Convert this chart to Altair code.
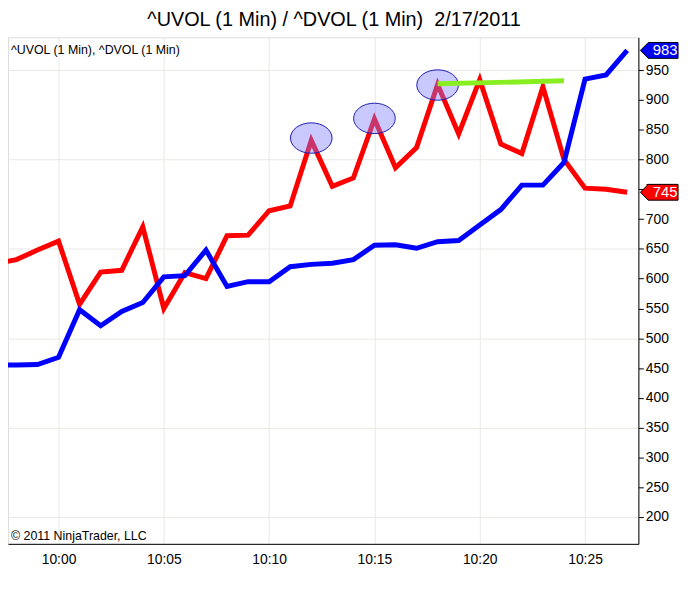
import altair as alt
import pandas as pd

# ---- data ----
minutes = list(range(-3, 28))  # minutes after 10:00, 09:57 .. 10:27
dvol_red = [625, 632, 648, 663, 557, 611, 614, 687, 550, 610, 600, 672, 673, 714, 722,
            832, 755, 769, 868, 786, 820, 926, 843, 934, 826, 810, 922, 800, 752, 750, 745]
uvol_blue = [455, 455, 456, 468, 548, 521, 545, 560, 603, 605, 648, 587, 595, 595, 620,
             624, 626, 632, 656, 657, 651, 662, 664, 690, 716, 757, 757, 795, 935, 942, 983]
green_min = [18, 24]
green_val = [927, 932]
ellipse_min = [12, 15, 18]
ellipse_val = [836, 869, 925]
tick_minutes = [0, 5, 10, 15, 20, 25]
y_ticks = list(range(200, 1000, 50))

TITLE = "^UVOL (1 Min) / ^DVOL (1 Min) \u00a02/17/2011"
LEGEND_TXT = "^UVOL (1 Min), ^DVOL (1 Min)"
COPY_TXT = "\u00a9 2011 NinjaTrader, LLC"

W, H = 636, 511
FONT = "Liberation Sans"


def ts(m):
    base = pd.Timestamp("2011-02-17 10:00:00")
    return (base + pd.Timedelta(minutes=m)).strftime("%Y-%m-%dT%H:%M:%S")


def dt(h, m, s=0):
    return alt.DateTime(year=2011, month=2, date=17, hours=h, minutes=m, seconds=s)


df = pd.DataFrame({"t": [ts(m) for m in minutes], "red": dvol_red, "blue": uvol_blue})
gdf = pd.DataFrame({"t": [ts(m) for m in green_min], "v": green_val})
edf = pd.DataFrame({"t": [ts(m) for m in ellipse_min], "v": ellipse_val})
tags = pd.DataFrame({"v": [uvol_blue[-1], dvol_red[-1]],
                     "label": [str(uvol_blue[-1]), str(dvol_red[-1])],
                     "c": ["#0000ee", "#ff0000"]})

xscale = alt.Scale(domain=[dt(9, 57, 36), dt(10, 27, 32)])
yscale = alt.Scale(domain=[155, 1005], nice=False, zero=False)

x_axis = alt.Axis(values=[dt(10, m) for m in tick_minutes], format="%H:%M",
                  ticks=False, labelPadding=9, labelFontSize=14, labelFont=FONT,
                  labelColor="black", domainColor="black", grid=True,
                  gridColor="#e8e8e4", labelFlush=False, labelOverlap=False)

y_axis = alt.Axis(orient="right", values=y_ticks, labelFontSize=14, labelFont=FONT,
                  labelColor="black", tickColor="black", tickSize=5, labelPadding=2,
                  labelOverlap=False, labelFlush=False,
                  domainColor="black", grid=True, gridColor="#e8e8e4",
                  gridOpacity={"condition": {"test": "datum.value % 150 == 50", "value": 1},
                               "value": 0})


def X(field):
    return alt.X(field, type="temporal", scale=xscale, title=None, axis=x_axis)


def Y(field):
    return alt.Y(field, type="quantitative", scale=yscale, title=None, axis=y_axis)


base = alt.Chart(df)
red_line = base.mark_line(color="#ff0000", strokeWidth=5, strokeJoin="miter", clip=True).encode(
    x=X("t"), y=Y("red"))
blue_line = base.mark_line(color="#0000ff", strokeWidth=5, strokeJoin="miter", clip=True).encode(
    x=X("t"), y=Y("blue"))

k = 0.73
c = 0.403
ellipse_path = (f"M -1 0 C -1 -{c} -0.552 -{k} 0 -{k} C 0.552 -{k} 1 -{c} 1 0 "
                f"C 1 {c} 0.552 {k} 0 {k} C -0.552 {k} -1 {c} -1 0 Z")
ellipses = alt.Chart(edf).mark_point(shape=ellipse_path, filled=True, fill="#7f7fff",
                                     fillOpacity=0.42, stroke="#1c1cb4", strokeWidth=1,
                                     strokeOpacity=1, opacity=1, size=1764).encode(
    x=X("t"), y=Y("v"))

green = alt.Chart(gdf).mark_line(color="#88ee22", strokeWidth=5, strokeCap="butt").encode(
    x=X("t"), y=Y("v"))

tag_path = "M -1 0 L -0.58 -0.42 L 1 -0.42 L 1 0.42 L -0.58 0.42 Z"
tag_shape = alt.Chart(tags).mark_point(shape=tag_path, filled=True, stroke="black",
                                       strokeWidth=1, opacity=1, size=1444, clip=False).encode(
    x=alt.value(W + 21), y=Y("v"),
    fill=alt.Color("c:N", scale=None, legend=None))
tag_text = alt.Chart(tags).mark_text(color="white", fontSize=15, font=FONT, align="center",
                                     baseline="middle", clip=False).encode(
    x=alt.value(W + 27), y=Y("v"), text="label:N")

legend_txt = alt.Chart(pd.DataFrame({"s": [LEGEND_TXT]})).mark_text(
    align="left", baseline="alphabetic", fontSize=12.5, font=FONT, color="black").encode(
    x=alt.value(3), y=alt.value(17), text="s:N")
copy_txt = alt.Chart(pd.DataFrame({"s": [COPY_TXT]})).mark_text(
    align="left", baseline="alphabetic", fontSize=12.5, font=FONT, color="black").encode(
    x=alt.value(3), y=alt.value(H - 4), text="s:N")
title_txt = alt.Chart(pd.DataFrame({"s": [TITLE]})).mark_text(
    align="center", baseline="alphabetic", fontSize=20, font=FONT, color="black",
    clip=False).encode(
    x=alt.value(W / 2 + 11), y=alt.value(-11), text="s:N")

chart = alt.layer(red_line, blue_line, ellipses, green, tag_shape, tag_text,
                  legend_txt, copy_txt, title_txt).properties(
    width=W, height=H,
    autosize=alt.AutoSizeParams(type="none"),
    padding={"left": 0, "top": 27, "right": 44, "bottom": 48},
).configure_view(stroke="black", strokeWidth=1).configure(background="white")

chart.save("out.html", embed_options={"renderer": "svg", "actions": False})
